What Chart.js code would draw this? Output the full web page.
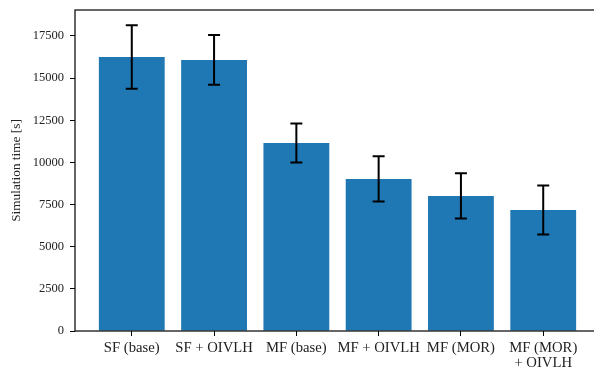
<!DOCTYPE html>
<html lang="en">
<head>
    <meta charset="UTF-8">
    <title>Simulation time</title>
    <script src="https://cdn.jsdelivr.net/npm/chart.js"></script>
    <style>
        html, body { margin: 0; padding: 0; background: #fff; overflow: hidden; }
        #wrap { width: 594px; height: 373px; overflow: hidden; }
    </style>
</head>
<body>
    <div id="wrap">
        <canvas id="timeChart" width="600" height="373"></canvas>
    </div>

    <script>
        // Configurations on the x axis (multi-line labels are arrays)
        const categories = [
            ['SF (base)'],
            ['SF + OIVLH'],
            ['MF (base)'],
            ['MF + OIVLH'],
            ['MF (MOR)'],
            ['MF (MOR)', '+ OIVLH']
        ];
        // Mean simulation time and its spread, in seconds
        const meanTimes = [16250, 16080, 11150, 9020, 8010, 7180];
        const errTimes = [1880, 1470, 1160, 1340, 1340, 1450];
        const yTicks = [0, 2500, 5000, 7500, 10000, 12500, 15000, 17500];

        const serif = "'Liberation Serif', 'DejaVu Serif', serif";
        const textColor = '#222';

        // Error bars with caps, placed through the chart's own scales
        const errorBars = {
            id: 'errorBars',
            afterDatasetsDraw(chart) {
                const ctx = chart.ctx;
                const yScale = chart.scales.y;
                const meta = chart.getDatasetMeta(0);
                ctx.save();
                ctx.strokeStyle = '#000';
                ctx.lineWidth = 2;
                meta.data.forEach((bar, i) => {
                    const x = bar.x;
                    const top = yScale.getPixelForValue(meanTimes[i] + errTimes[i]);
                    const bot = yScale.getPixelForValue(meanTimes[i] - errTimes[i]);
                    ctx.beginPath();
                    ctx.moveTo(x, top);
                    ctx.lineTo(x, bot);
                    ctx.moveTo(x - 6, top);
                    ctx.lineTo(x + 6, top);
                    ctx.moveTo(x - 6, bot);
                    ctx.lineTo(x + 6, bot);
                    ctx.stroke();
                });
                ctx.restore();
            }
        };

        // Box around the plot area
        const frame = {
            id: 'frame',
            afterDraw(chart) {
                const a = chart.chartArea;
                const ctx = chart.ctx;
                ctx.save();
                ctx.strokeStyle = '#000';
                ctx.lineWidth = 1.2;
                ctx.strokeRect(a.left, a.top, a.right - a.left, a.bottom - a.top);
                ctx.restore();
            }
        };

        const ctx = document.getElementById('timeChart').getContext('2d');
        new Chart(ctx, {
            type: 'bar',
            data: {
                datasets: [{
                    data: meanTimes.map((v, i) => ({ x: i, y: v })),
                    backgroundColor: '#1f77b4',
                    borderWidth: 0,
                    inflateAmount: 0,
                    barPercentage: 0.8,
                    categoryPercentage: 1.0
                }]
            },
            options: {
                responsive: false,
                animation: false,
                devicePixelRatio: 1,
                layout: { padding: { top: 10, right: 0, bottom: 0, left: 0 } },
                plugins: {
                    legend: { display: false },
                    tooltip: { enabled: false }
                },
                scales: {
                    x: {
                        type: 'linear',
                        min: -0.69,
                        max: 5.69,
                        offset: false,
                        grid: {
                            offset: false,
                            drawOnChartArea: false,
                            tickLength: 5,
                            tickColor: '#000'
                        },
                        border: { display: false },
                        ticks: {
                            autoSkip: false,
                            maxRotation: 0,
                            padding: 4,
                            color: textColor,
                            font: { family: serif, size: 14.7, lineHeight: 1.05 },
                            callback: (v) => categories[v] || ''
                        },
                        afterBuildTicks(scale) {
                            scale.ticks = categories.map((c, i) => ({ value: i }));
                        },
                        afterFit(scale) {
                            scale.height = 42;
                            scale.paddingLeft = 0;
                            scale.paddingRight = 0;
                        }
                    },
                    y: {
                        min: 0,
                        max: 19040,
                        grid: {
                            drawOnChartArea: false,
                            tickLength: 5,
                            tickColor: '#000'
                        },
                        border: { display: false },
                        ticks: {
                            padding: 6,
                            color: textColor,
                            font: { family: serif, size: 12.5 },
                            callback: (v) => String(v)
                        },
                        afterBuildTicks(scale) {
                            scale.ticks = yTicks.map(v => ({ value: v }));
                        },
                        title: {
                            display: true,
                            text: 'Simulation time [s]',
                            color: textColor,
                            font: { family: serif, size: 13.3 },
                            padding: { top: 8.5, bottom: 0 }
                        },
                        afterFit(scale) {
                            scale.width = 75;
                            scale.paddingTop = 0;
                            scale.paddingBottom = 0;
                        }
                    }
                }
            },
            plugins: [errorBars, frame]
        });
    </script>
</body>
</html>
